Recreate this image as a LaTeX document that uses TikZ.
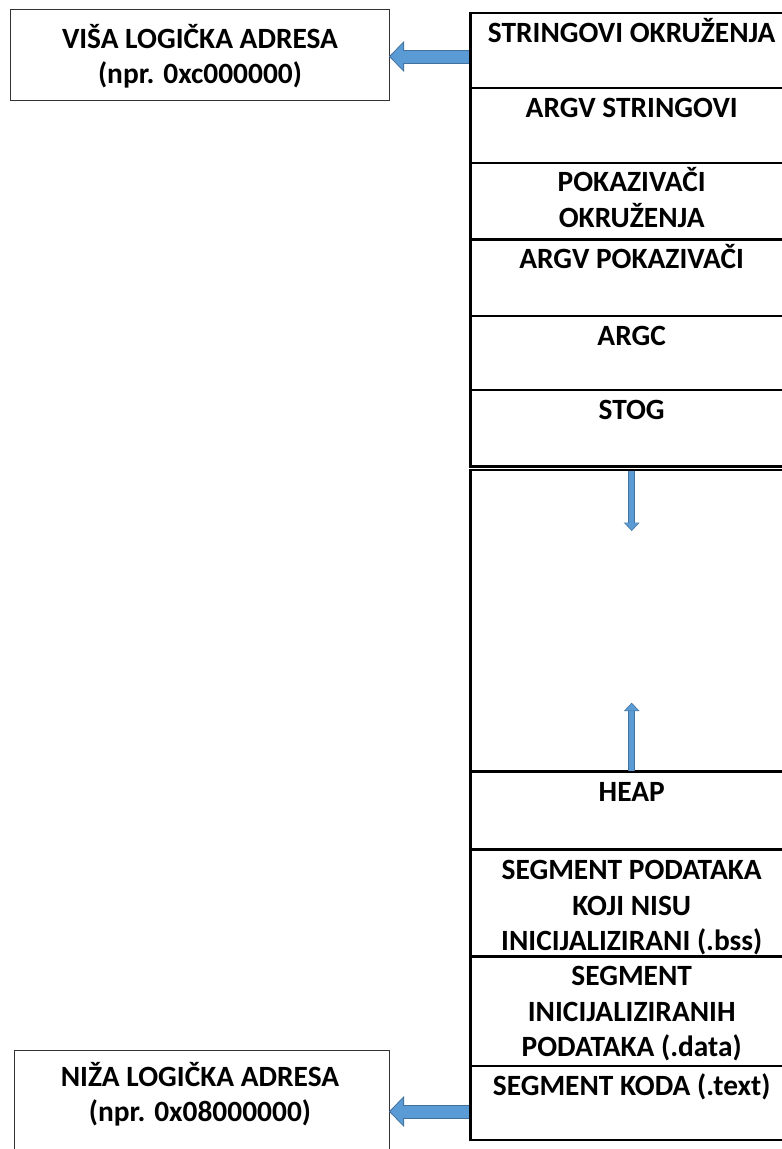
\documentclass[tikz,border=0pt]{standalone}
\usepackage{fontspec}
\setmainfont{Carlito}
\usetikzlibrary{arrows.meta}
\definecolor{arrowfill}{HTML}{5B9BD5}
\definecolor{arrowline}{HTML}{41719C}
\newcommand\firstline[1]{\rule{0pt}{#1}}
\tikzset{
  seg/.style={draw, line width=2.7pt, anchor=north west, minimum width=322pt,
    inner sep=0pt, outer sep=0pt},
  segtext/.style={anchor=north, align=center, inner sep=0pt,
    font=\bfseries\fontsize{29.4}{35.8}\selectfont},
  addr/.style={draw=black!80, line width=1pt, anchor=north west,
    inner sep=0pt, outer sep=0pt},
  addrtext/.style={anchor=north, align=center, inner sep=0pt,
    font=\bfseries\fontsize{29.4}{35}\selectfont},
  bigout/.style={draw=arrowline, line width=14pt, shorten <=1.25pt,
    -{Triangle[length=15pt,width=31pt,line width=0pt]}},
  bigin/.style={draw=arrowfill, line width=12pt, shorten <=1.25pt, shorten >=1.4pt,
    -{Triangle[length=12.6pt,width=26.5pt,line width=0pt]}},
  smallout/.style={draw=arrowline, line width=7.5pt, shorten <=1.25pt,
    -{Triangle[length=8.5pt,width=16pt,line width=0pt]}},
  smallin/.style={draw=arrowfill, line width=5.5pt, shorten <=1.25pt, shorten >=1pt,
    -{Triangle[length=7pt,width=13pt,line width=0pt]}}
}
\begin{document}
\begin{tikzpicture}[x=1pt,y=-1pt]
  \useasboundingbox (0,0) rectangle (782,1149);
  \draw
    (470.7,13) node[seg, minimum height=75pt] (env){}
    (470.7,88) node[seg, minimum height=75pt] (argvs){}
    (470.7,163) node[seg, minimum height=76.5pt] (envp){}
    (470.7,239.5) node[seg, minimum height=76.5pt] (argvp){}
    (470.7,316) node[seg, minimum height=74pt] (argc){}
    (470.7,390) node[seg, minimum height=76.5pt] (stog){}
    (470.7,470) node[seg, minimum height=302pt] (free){}
    (470.7,771) node[seg, minimum height=78.5pt] (heap){}
    (470.7,849.5) node[seg, minimum height=107pt] (bss){}
    (470.7,956.5) node[seg, minimum height=109.5pt] (data){}
    (470.7,1066) node[seg, minimum height=74pt] (koda){}
    (10,9) node[addr, minimum width=379pt, minimum height=91pt] (hi){}
    (14,1050) node[addr, minimum width=375pt, minimum height=123pt] (lo){};
  \node[segtext] (env-t) at (env.north) {\firstline{29pt}STRINGOVI OKRUŽENJA};
  \node[segtext] (argvs-t) at (argvs.north) {\firstline{29pt}ARGV STRINGOVI};
  \node[segtext] (envp-t) at (envp.north) {\firstline{28.5pt}POKAZIVAČI\\OKRUŽENJA};
  \node[segtext] (argvp-t) at (argvp.north) {\firstline{28.5pt}ARGV POKAZIVAČI};
  \node[segtext] (argc-t) at (argc.north) {\firstline{29pt}ARGC};
  \node[segtext] (stog-t) at (stog.north) {\firstline{29pt}STOG};
  \node[segtext] (heap-t) at (heap.north) {\firstline{30pt}HEAP};
  \node[segtext] (bss-t) at (bss.north) {\firstline{29.5pt}SEGMENT PODATAKA\\KOJI NISU\\INICIJALIZIRANI (.bss)};
  \node[segtext] (data-t) at (data.north) {\firstline{28.5pt}SEGMENT\\INICIJALIZIRANIH\\PODATAKA (.data)};
  \node[segtext] (koda-t) at (koda.north) {\firstline{29pt}SEGMENT KODA (.text)};
  \node[addrtext] (hi-t) at ([xshift=0.5pt]hi.north) {\firstline{39.3pt}VIŠA LOGIČKA ADRESA\\(npr. 0xc000000)};
  \node[addrtext] (lo-t) at ([xshift=-1.5pt]lo.north) {\firstline{36.7pt}NIŽA LOGIČKA ADRESA\\(npr. 0x08000000)};
  \coordinate (hiport) at ([yshift=-2pt]hi.east);
  \coordinate (stackend) at (631.7,531);
  \coordinate (heapend) at (631.7,702.7);
  \begin{scope}
    \draw[bigout] (env.west |- hiport) -- (hiport);
    \draw[bigin] (env.west |- hiport) -- (hiport);
    \draw[bigout] (koda.west |- lo.east) -- (lo.east);
    \draw[bigin] (koda.west |- lo.east) -- (lo.east);
    \draw[smallout] (free.north) -- (stackend);
    \draw[smallin] (free.north) -- (stackend);
    \draw[smallout] (free.south) -- (heapend);
    \draw[smallin] (free.south) -- (heapend);
  \end{scope}
\end{tikzpicture}
\end{document}
